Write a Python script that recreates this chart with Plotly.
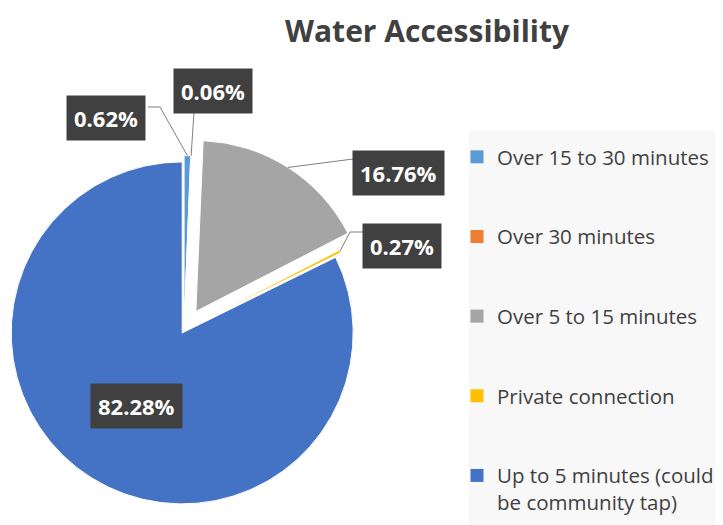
import math
import plotly.graph_objects as go

# ── Data ──
labels = ["Over 15 to 30 minutes", "Over 30 minutes", "Over 5 to 15 minutes",
          "Private connection", "Up to 5 minutes (could be community tap)"]
legend_labels = ["Over 15 to 30 minutes", "Over 30 minutes", "Over 5 to 15 minutes",
                 "Private connection", "Up to 5 minutes (could<br>be community tap)"]
shares = [0.62, 0.06, 16.76, 0.27, 82.28]
colors = ["#5B9BD5", "#ED7D31", "#A5A5A5", "#FFC000", "#4472C4"]
exploded = 2  # index of the slice pulled out (Over 5 to 15 minutes)

W, H = 723, 525
OFF = 8  # page body margin
TEXT = "#404040"
FONT = "Open Sans"
CLEAR = "rgba(0,0,0,0)"

# pie geometry in screen pixels
CX, CY, R = 184, 330, 171
PULL = 0.02        # small pull of the other slices (fraction of radius)
EXPLODE = 22       # offset of the exploded slice, px

# label boxes (centre, px) and elbow points of the leader lines
box_pos = [(106, 118), (213, 91), (398, 173), (402, 246), (136, 406)]
elbows = [[(160, 107), (148, 107)], [(194, 112)], [(353, 159)], [(350, 232), (365, 232)], []]


def px(x):
    return (x - OFF) / W


def py(y):
    return 1 - (y - OFF) / H


total = sum(shares)
mids = []
acc = 0.0
for v in shares:
    mids.append((acc + v / 2) / total * 2 * math.pi)
    acc += v

fig = go.Figure()

# main pie (exploded slice left transparent)
half = R * (1 + PULL)
fig.add_trace(go.Pie(
    labels=labels, values=shares,
    marker=dict(colors=[CLEAR if i == exploded else c for i, c in enumerate(colors)],
                line=dict(color=[CLEAR if i == exploded else "white" for i in range(len(shares))],
                          width=1)),
    pull=[0 if i == exploded else PULL for i in range(len(shares))],
    sort=False, direction="clockwise", rotation=0,
    textinfo="none", showlegend=False,
    domain=dict(x=[max(0, px(CX - half)), px(CX + half)], y=[py(CY + half), py(CY - half)]),
))

# exploded slice, drawn from a pie shifted along its mid angle
ex = CX + EXPLODE * math.sin(mids[exploded])
ey = CY - EXPLODE * math.cos(mids[exploded])
fig.add_trace(go.Pie(
    labels=labels, values=shares,
    marker=dict(colors=[c if i == exploded else CLEAR for i, c in enumerate(colors)],
                line=dict(color=["white" if i == exploded else CLEAR for i in range(len(shares))],
                          width=1)),
    sort=False, direction="clockwise", rotation=0,
    textinfo="none", showlegend=False,
    domain=dict(x=[px(ex - R), px(ex + R)], y=[py(ey + R), py(ey - R)]),
))

# legend entries
for i, (lab, c) in enumerate(zip(legend_labels, colors)):
    fig.add_trace(go.Scatter(
        x=[None], y=[None], mode="markers", name=lab, legendgroup=str(i),
        marker=dict(symbol="square", size=13, color=c),
    ))

# data labels + leader lines
shapes = [dict(type="rect", xref="paper", yref="paper", x0=px(469), x1=1, y0=0, y1=py(131),
               fillcolor="#F8F8F8", line=dict(width=0), layer="below")]
annotations = [dict(
    x=px(427), y=1, xref="paper", yref="paper", xanchor="center", yanchor="top",
    showarrow=False, text="<b>Water Accessibility</b>",
    font=dict(family=FONT, size=30, color=TEXT),
)]
for i, v in enumerate(shares):
    dx, dy = math.sin(mids[i]), -math.cos(mids[i])
    if i == exploded:
        ax, ay = CX + (R + EXPLODE) * dx, CY + (R + EXPLODE) * dy
    else:
        ax, ay = CX + R * (1 + PULL) * dx, CY + R * (1 + PULL) * dy
    if elbows[i]:
        pts = [(ax, ay)] + elbows[i]
        path = "M " + " L ".join(f"{px(x)},{py(y)}" for x, y in pts)
        shapes.append(dict(type="path", xref="paper", yref="paper", path=path,
                           line=dict(color="#7F7F7F", width=1)))
    bx, by = box_pos[i]
    annotations.append(dict(
        x=px(bx), y=py(by), xref="paper", yref="paper", xanchor="center", yanchor="middle",
        showarrow=False, text=f"<b>{v:.2f}%</b>",
        font=dict(family=FONT, size=22, color="white"),
        bgcolor="#404040", borderpad=7,
    ))

fig.update_layout(
    width=W, height=H,
    paper_bgcolor="white", plot_bgcolor="white",
    margin=dict(l=0, r=0, t=0, b=0),
    xaxis=dict(visible=False), yaxis=dict(visible=False),
    legend=dict(x=px(457), y=py(137), xanchor="left", yanchor="top",
                bgcolor="rgba(0,0,0,0)", font=dict(family=FONT, size=20.5, color=TEXT),
                tracegroupgap=50, valign="top"),
    shapes=shapes, annotations=annotations,
)

fig.write_html("out.html")
